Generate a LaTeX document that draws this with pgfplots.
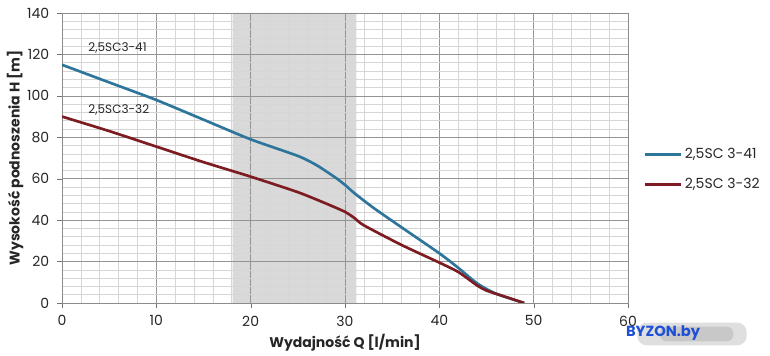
\documentclass[border=0pt]{standalone}
\usepackage{pgfplots}
\pgfplotsset{compat=1.18}
\usepackage{fontspec}
\setmainfont{Poppins}
\definecolor{blueline}{RGB}{46,117,156}
\definecolor{redline}{RGB}{124,28,34}
\definecolor{shadegray}{RGB}{217,217,217}
\definecolor{wmblue}{RGB}{30,80,215}
\begin{document}
\begin{tikzpicture}
\begin{axis}[
  at={(46.5pt,39.75pt)}, anchor=south west,
  scale only axis, width=424.5pt, height=217.5pt,
  set layers,
  xmin=0, xmax=60, ymin=0, ymax=140,
  xtick={0,10,...,60}, ytick={0,20,...,140},
  minor x tick num=4, minor y tick num=4,
  grid=both,
  major grid style={draw=black!42, line width=0.5pt},
  minor grid style={draw=black!16, line width=0.5pt},
  axis line style={draw=black!45},
  tick style={draw=black!55},
  tick align=outside, major tick length=4pt, minor tick length=0pt,
  xtick pos=bottom, ytick pos=left,
  ticklabel style={font=\fontsize{10.5}{12}\selectfont, text=black!85},
  /pgf/number format/assume math mode=true,
  xticklabel style={yshift=-2pt},
  yticklabel style={xshift=-2pt},
  xlabel={\bfseries Wydajność Q [l/min]},
  ylabel={\bfseries Wysokość podnoszenia H [m]},
  label style={font=\fontsize{10.5}{12}\selectfont, text=black!85},
  xlabel style={at={(axis description cs:0.5,-0.138)}, anchor=center},
  ylabel style={at={(axis description cs:-0.083,0.5)}, anchor=center},
  legend style={at={(axis description cs:1.02,0.46)}, anchor=west, draw=none, fill=none,
    font=\fontsize{10.5}{12}\selectfont, row sep=9pt, text=black!85},
  legend cell align=left,
  legend image code/.code={\draw[#1, line width=2pt] (0pt,0pt) -- (27pt,0pt);},
]
\addplot[draw=none, fill=shadegray, on layer=axis background, forget plot]
  coordinates {(18.1,0) (18.1,140) (31.2,140) (31.2,0)} \closedcycle;

\addplot[blueline, line width=2pt, smooth, tension=0.4] coordinates {
 (0,115) (5,106.5) (10,98) (15,88.5) (20,79) (25,71) (27,66.5) (29,60.5)
 (30,57) (31,53) (33,46) (36,36.5) (40,24) (42,17) (44,9.5) (46,4.5) (49,0)};
\addlegendentry{2,5SC 3-41}

\addplot[redline, line width=2pt, smooth, tension=0.4] coordinates {
 (0,90) (5,83) (10,75.5) (15,68) (20,61) (25,53.5) (28,48) (30,44)
 (31,41) (32,37.5) (36,28) (40,19.5) (42,15) (44,8.5) (45,6) (47,3) (49,0)};
\addlegendentry{2,5SC 3-32}

\node[anchor=west, font=\fontsize{9}{10}\selectfont, text=black!85] at (axis cs:2.3,123) {2,5SC3-41};
\node[anchor=west, font=\fontsize{9}{10}\selectfont, text=black!85] at (axis cs:2.3,93) {2,5SC3-32};
\end{axis}
\fill[black!25, opacity=0.5, rounded corners=7pt] (478pt,8pt) rectangle (560pt,25pt);
\fill[black!30, opacity=0.5, rounded corners=5pt] (495pt,11pt) rectangle (550pt,22pt);
\node[anchor=west, font=\fontsize{11}{12}\selectfont\bfseries, text=wmblue] at (466pt,17pt) {BYZON.by};
\pgfresetboundingbox
\path[use as bounding box] (0,0) rectangle (577.5pt,267pt);
\end{tikzpicture}
\end{document}
